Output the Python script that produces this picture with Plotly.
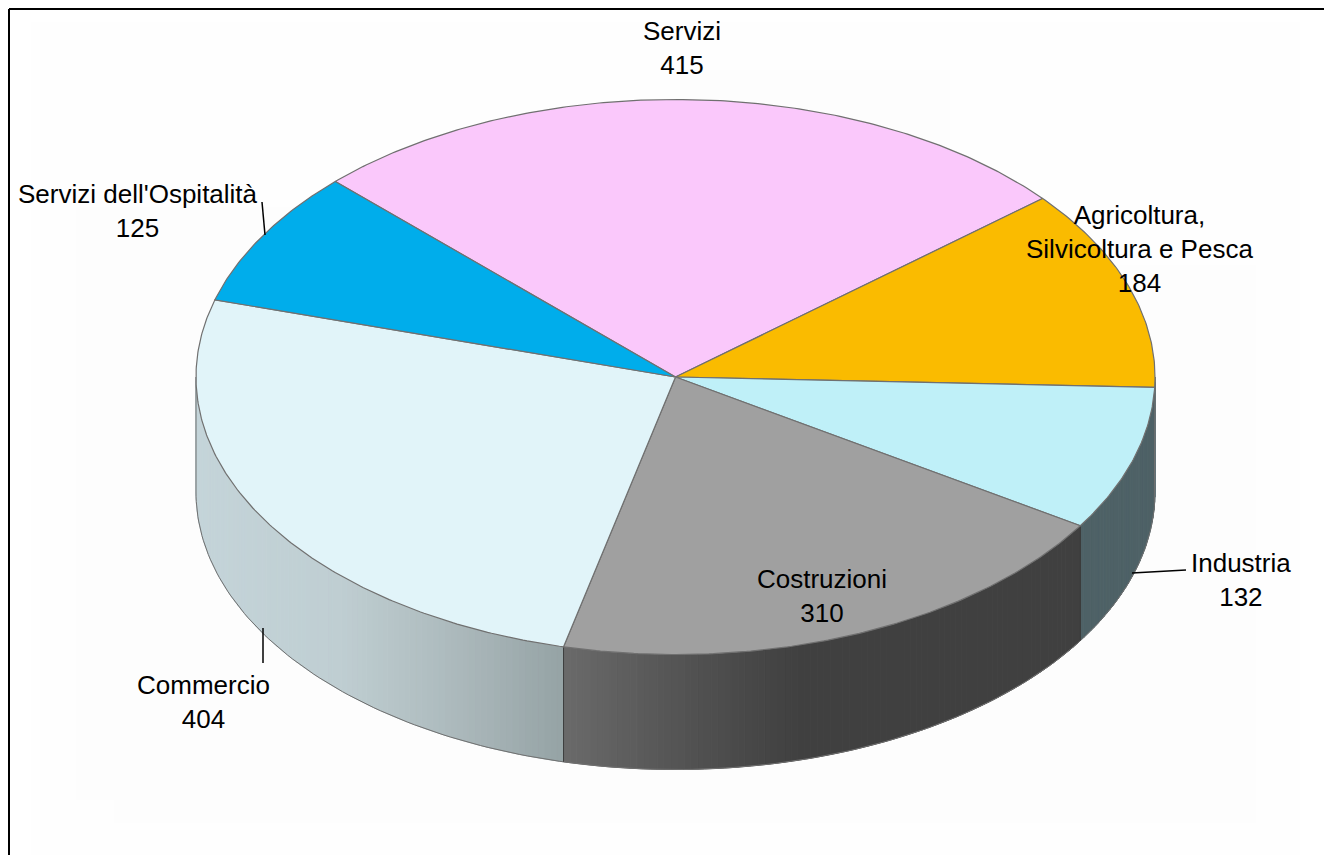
import math
import plotly.graph_objects as go

# --- data ---
categories = ["Servizi", "Agricoltura,<br>Silvicoltura e Pesca", "Industria",
              "Costruzioni", "Commercio", "Servizi dell'Ospitalità"]
values = [415, 184, 132, 310, 404, 125]

# --- styles ---
top_colors = ["#fac8fb", "#fabb00", "#bff0f8", "#a0a0a0", "#e1f4f9", "#00adeb"]
side_stops = [
    [(0, "#d9a9da")],
    [(0, "#4e6166")],
    [(1081, "#4e6166"), (1155, "#4e6166")],
    [(563, "#6a6a6a"), (700, "#505050"), (800, "#404040"), (1081, "#404040")],
    [(196, "#c4d4d9"), (340, "#bfced2"), (450, "#adbabd"), (563, "#95a3a5")],
    [(0, "#006a90")],
]
label_pos = [(682, 48), (1139, 249), (1241, 580), (822, 596), (203, 702), (138, 211)]
leaders = [((263, 628), (263, 663)), ((1132, 573), (1186, 570)), ((262, 202), (265, 235))]
FONT_SIZE = 26

# --- projection of the tilted disc (page pixels) ---
CX, CY, RX, RY, DEPTH, START = 675.5, 377, 479.5, 277.5, 115, -45.2


def rim(a, dy=0):
    r = math.radians(a)
    return CX + RX * math.sin(r), CY - RY * math.cos(r) + dy


def shade(stops, x):
    def rgb(h):
        return [int(h[i:i + 2], 16) for i in (1, 3, 5)]
    if x <= stops[0][0]:
        return stops[0][1]
    for (x0, c0), (x1, c1) in zip(stops, stops[1:]):
        if x <= x1:
            t = (x - x0) / (x1 - x0)
            mix = [round(p + (q - p) * t) for p, q in zip(rgb(c0), rgb(c1))]
            return "rgb(%d,%d,%d)" % tuple(mix)
    return stops[-1][1]


total = sum(values)
bounds = [START]
for v in values:
    bounds.append(bounds[-1] + v / total * 360)

fig = go.Figure()

# sides: only the front half of the rim is visible
dividers = []
for i in range(len(values)):
    a0, a1 = max(bounds[i], 90), min(bounds[i + 1], 270)
    if a1 <= a0:
        continue
    n = max(1, int((a1 - a0) / 0.8))
    for k in range(n):
        s0 = a0 + (a1 - a0) * k / n
        s1 = a0 + (a1 - a0) * (k + 1) / n
        x0, y0 = rim(s0)
        x1, y1 = rim(s1)
        c = shade(side_stops[i], (x0 + x1) / 2)
        fig.add_trace(go.Scatter(
            x=[x0, x1, x1, x0, x0], y=[y0, y1, y1 + DEPTH, y0 + DEPTH, y0],
            mode="lines", fill="toself", fillcolor=c,
            line=dict(color=c, width=1), hoverinfo="skip"))
    dividers.append(a0)

# outline of the side wall, including its two extreme edges
steps = [90 + j for j in range(0, 181)]
wall = [rim(90)] + [rim(a, DEPTH) for a in steps] + [rim(270)]
fig.add_trace(go.Scatter(x=[p[0] for p in wall], y=[p[1] for p in wall], mode="lines",
                         line=dict(color="#707070", width=1), hoverinfo="skip"))
for a in dividers[2:]:
    x0, y0 = rim(a)
    fig.add_trace(go.Scatter(x=[x0, x0], y=[y0, y0 + DEPTH], mode="lines",
                             line=dict(color="#3a3a3a", width=1), hoverinfo="skip"))

# top slices
for i, v in enumerate(values):
    a0, a1 = bounds[i], bounds[i + 1]
    n = max(2, int(a1 - a0) * 2)
    pts = [rim(a0 + (a1 - a0) * k / n) for k in range(n + 1)]
    xs = [CX] + [p[0] for p in pts] + [CX]
    ys = [CY] + [p[1] for p in pts] + [CY]
    fig.add_trace(go.Scatter(x=xs, y=ys, mode="lines", fill="toself",
                             fillcolor=top_colors[i],
                             line=dict(color="#707070", width=1.2),
                             name=categories[i], hoverinfo="skip"))

# leader lines
for (p, q) in leaders:
    fig.add_trace(go.Scatter(x=[p[0], q[0]], y=[p[1], q[1]], mode="lines",
                             line=dict(color="#000000", width=1.5), hoverinfo="skip"))

# labels
for cat, v, (lx, ly) in zip(categories, values, label_pos):
    fig.add_annotation(x=lx, y=ly, text=f"{cat}<br>{v}", showarrow=False,
                       xanchor="center", yanchor="middle",
                       font=dict(family="Liberation Sans", size=FONT_SIZE, color="#000000"))

# faint near-white backdrop
for (x0, y0, x1, y1, col) in [(31, 22, 1300, 855, "#fefefe"),
                              (76, 400, 1256, 800, "#fdfdfd"),
                              (114, 400, 1256, 823, "#fdfdfd"),
                              (76, 207, 350, 400, "#fdfdfd"),
                              (680, 70, 950, 400, "#fdfdfd"),
                              (983, 265, 1256, 400, "#fdfdfd")]:
    fig.add_shape(type="rect", x0=x0, y0=y0, x1=x1, y1=y1, layer="below",
                  fillcolor=col, line=dict(width=0))

# frame (left and top edges only)
fig.add_shape(type="line", x0=9, x1=9, y0=9, y1=855, line=dict(color="#000000", width=2))
fig.add_shape(type="line", x0=9, x1=1324, y0=9, y1=9, line=dict(color="#000000", width=2))

fig.update_layout(
    width=1324, height=855, autosize=False,
    margin=dict(l=0, r=0, t=0, b=0),
    paper_bgcolor="#ffffff", plot_bgcolor="#ffffff",
    showlegend=False,
    xaxis=dict(range=[0, 1324], visible=False, fixedrange=True),
    yaxis=dict(range=[855, 0], visible=False, fixedrange=True),
)
fig.write_html("out.html", config={"displayModeBar": False},
               post_script="document.body.style.margin='0';document.body.style.overflow='hidden';")
